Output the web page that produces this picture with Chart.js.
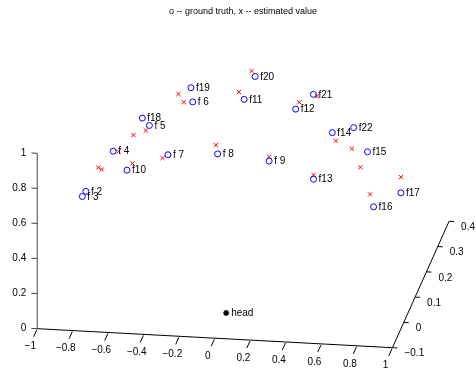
<!DOCTYPE html>
<html>
<head>
<meta charset="utf-8">
<script src="https://cdn.jsdelivr.net/npm/chart.js@4"></script>
<style>
  html, body { margin:0; padding:0; background:#fff; }
</style>
</head>
<body>
<canvas id="chart3d" width="476" height="373"></canvas>
<script>
// === data (3D: x, y = depth, z = height) ===
const names  = ['f 2','f 3','f 4','f 5','f 6','f 7','f 8','f 9','f10','f11','f12','f13','f14','f15','f16','f17','f18','f19','f20','f21','f22'];
const truthX = [-0.79,-0.81,-0.70,-0.56,-0.38,-0.36,-0.08, 0.21,-0.59,-0.09, 0.20, 0.46, 0.47, 0.70, 0.83, 0.92,-0.60,-0.39,-0.06, 0.30, 0.59];
const truthY = [ 0.00, 0.00, 0.10, 0.20, 0.30, 0.05, 0.05, 0.05, 0.05, 0.30, 0.30, 0.05, 0.20, 0.15, 0.00, 0.10, 0.20, 0.30, 0.35, 0.30, 0.20];
const truthZ = [ 0.65, 0.62, 0.74, 0.75, 0.75, 0.81, 0.83, 0.805,0.71, 0.78, 0.74, 0.715,0.765,0.74, 0.65, 0.59, 0.79, 0.83, 0.84, 0.83, 0.80];
const estX   = [-0.72,-0.70,-0.67,-0.58,-0.43,-0.39,-0.09, 0.21,-0.56,-0.12, 0.22, 0.46, 0.49, 0.66, 0.81, 0.92,-0.65,-0.46,-0.08, 0.32, 0.58];
const estY   = truthY;
const estZ   = [ 0.79, 0.78, 0.74, 0.72, 0.745,0.79, 0.88, 0.83, 0.75, 0.82, 0.78, 0.74, 0.72, 0.65, 0.72, 0.68, 0.69, 0.79, 0.87, 0.82, 0.68];
const headPos = [0, 0, 0];

const xTicks = [-1, -0.8, -0.6, -0.4, -0.2, 0, 0.2, 0.4, 0.6, 0.8, 1];
const yTicks = [-0.1, 0, 0.1, 0.2, 0.3, 0.4];
const zTicks = [0, 0.2, 0.4, 0.6, 0.8, 1];
const xLim = [-1, 1], yLim = [-0.1, 0.4], zLim = [0, 1];

// view: projection of the 3D box onto the page plane
const O  = [32.5, 333];
const EX = [181.8, 9.8];
const EY = [116, -260.6];
const EZ = [0, -180.7];
function proj(x, y, z) {
  const a = x - xLim[0], b = y - yLim[0];
  return { x: O[0] + a*EX[0] + b*EY[0] + z*EZ[0], y: O[1] + a*EX[1] + b*EY[1] + z*EZ[1] };
}
const fmt = v => (v < 0 ? '\u2212' : '') + String(Math.abs(Math.round(v*10)/10));

const truthPts = truthX.map((x, i) => proj(x, truthY[i], truthZ[i]));
const estPts   = estX.map((x, i) => proj(x, estY[i], estZ[i]));
const headPt   = [proj(...headPos)];

const FONT = '"Liberation Sans", Arial, Helvetica, sans-serif';

const axes3d = {
  id: 'axes3d',
  beforeDatasetsDraw(chart) {
    const ctx = chart.ctx, sx = chart.scales.x, sy = chart.scales.y;
    const px = p => [sx.getPixelForValue(p.x), sy.getPixelForValue(p.y)];
    const line = (p, q) => { const a = px(p), b = px(q); ctx.beginPath(); ctx.moveTo(a[0], a[1]); ctx.lineTo(b[0], b[1]); ctx.stroke(); };
    ctx.save();
    ctx.lineWidth = 1;
    ctx.font = '10px ' + FONT;
    ctx.fillStyle = '#000';
    // z axis
    ctx.strokeStyle = '#444';
    line(proj(xLim[0], yLim[0], zLim[0]), proj(xLim[0], yLim[0], zLim[1]));
    ctx.textAlign = 'right'; ctx.textBaseline = 'middle';
    zTicks.forEach(z => {
      const p = proj(xLim[0], yLim[0], z);
      line(p, proj(xLim[0] - 0.033, yLim[0], z));
      const a = px(p);
      ctx.fillText(fmt(z), a[0] - 11, a[1]);
    });
    // x axis
    ctx.strokeStyle = '#000';
    line(proj(xLim[0], yLim[0], 0), proj(xLim[1], yLim[0], 0));
    ctx.textAlign = 'center'; ctx.textBaseline = 'middle';
    xTicks.forEach(x => {
      const p = proj(x, yLim[0], 0);
      line(proj(x, yLim[0] - 0.004, 0), proj(x, yLim[0] - 0.032, 0));
      const a = px(p);
      ctx.fillText(fmt(x), a[0] - 7, a[1] + 18);
    });
    // y axis
    line(proj(xLim[1], yLim[0], 0), proj(xLim[1], yLim[1], 0));
    ctx.textAlign = 'left';
    yTicks.forEach(y => {
      const p = proj(xLim[1], y, 0);
      line(p, proj(xLim[1] + 0.028, y, 0));
      const a = px(p);
      ctx.fillText(fmt(y), a[0] + 12, a[1] + 6);
    });
    ctx.restore();
  },
  afterDatasetsDraw(chart) {
    const ctx = chart.ctx, sx = chart.scales.x, sy = chart.scales.y;
    ctx.save();
    ctx.fillStyle = '#000';
    ctx.font = '10px ' + FONT;
    ctx.textAlign = 'left'; ctx.textBaseline = 'middle';
    truthPts.forEach((p, i) => ctx.fillText(names[i], sx.getPixelForValue(p.x) + 5, sy.getPixelForValue(p.y) + 0.5));
    const h = headPt[0];
    ctx.fillText('head', sx.getPixelForValue(h.x) + 5, sy.getPixelForValue(h.y) + 0.5);
    ctx.font = '9px ' + FONT;
    ctx.textAlign = 'center';
    ctx.fillText('o -- ground truth, x -- estimated value', 243, 12);
    ctx.restore();
  }
};

new Chart(document.getElementById('chart3d'), {
  type: 'scatter',
  data: {
    datasets: [
      { label:'ground truth', data: truthPts, pointStyle:'circle', pointRadius:3, borderWidth:1,
        borderColor:'#0000ff', backgroundColor:'rgba(0,0,0,0)', clip:false },
      { label:'estimated', data: estPts, pointStyle:'crossRot', pointRadius:3, borderWidth:1,
        borderColor:'#ff0000', backgroundColor:'#ff0000', clip:false },
      { label:'head', data: headPt, pointStyle:'star', pointRadius:3, borderWidth:1.5,
        borderColor:'#000', backgroundColor:'#000', clip:false }
    ]
  },
  options: {
    responsive:false, animation:false,
    layout:{ padding:0 },
    scales: {
      x: { type:'linear', min:0, max:476, display:false },
      y: { type:'linear', min:0, max:373, reverse:true, display:false }
    },
    plugins: { legend:{ display:false }, tooltip:{ enabled:false } }
  },
  plugins: [axes3d]
});
</script>
</body>
</html>
